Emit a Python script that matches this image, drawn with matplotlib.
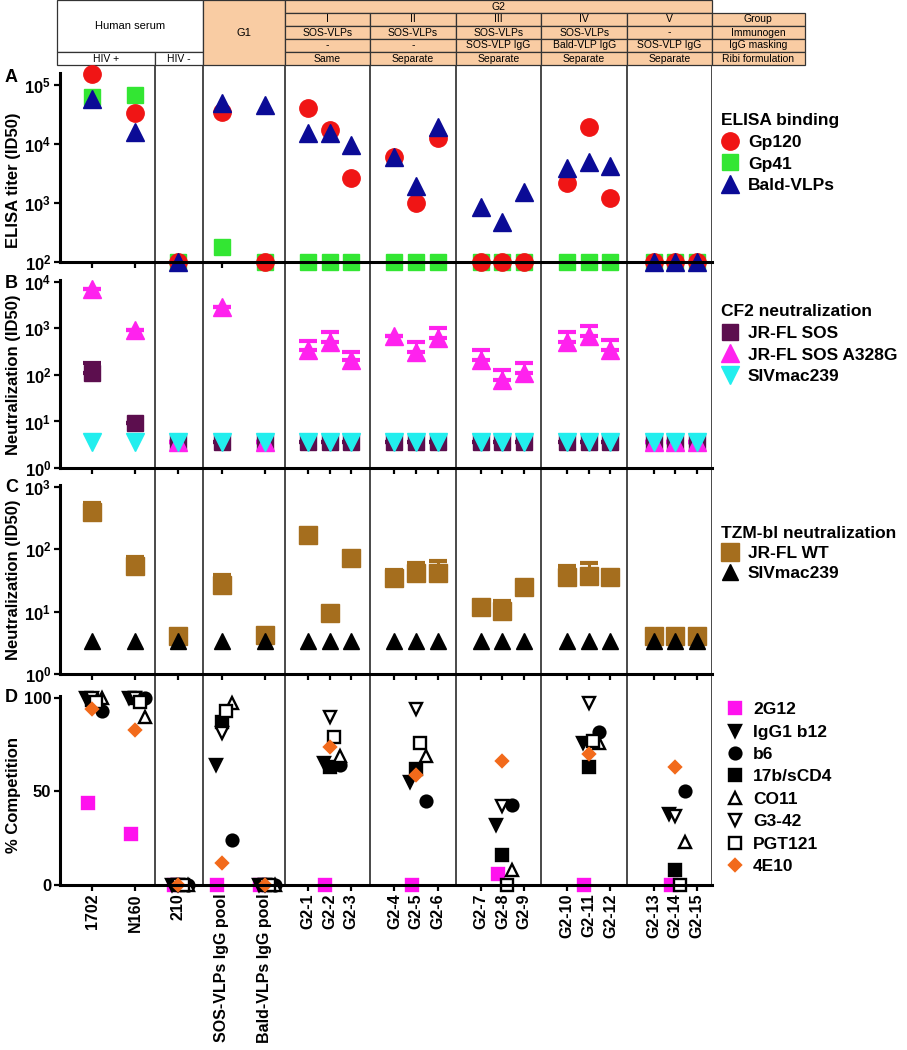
import numpy as np
import matplotlib
matplotlib.use("Agg")
import matplotlib.pyplot as plt
from matplotlib.patches import Rectangle

plt.rcParams["font.family"] = ["Liberation Sans", "DejaVu Sans"]
plt.rcParams["mathtext.fontset"] = "custom"
plt.rcParams["mathtext.rm"] = "Liberation Sans:bold"
plt.rcParams["mathtext.bf"] = "Liberation Sans:bold"

# ---------------- data ----------------
samples = ["1702", "N160", "210", "SOS-VLPs IgG pool", "Bald-VLPs IgG pool",
           "G2-1", "G2-2", "G2-3", "G2-4", "G2-5", "G2-6", "G2-7", "G2-8", "G2-9",
           "G2-10", "G2-11", "G2-12", "G2-13", "G2-14", "G2-15"]
group_sizes = [1, 1, 1, 1, 1, 3, 3, 3, 3, 3]
separators = [4.4, 6.64, 10.42, 14.37, 18.35, 22.3, 26.27, 30.2]

# header table
g2_names = ["I", "II", "III", "IV", "V"]
immunogen = ["SOS-VLPs", "SOS-VLPs", "SOS-VLPs", "SOS-VLPs", "-"]
masking = ["-", "-", "SOS-VLP IgG", "Bald-VLP IgG", "SOS-VLP IgG"]
ribi = ["Same", "Separate", "Separate", "Separate", "Separate"]
row_names = ["Group", "Immunogen", "IgG masking", "Ribi formulation"]

# A: ELISA binding titers
gp120 = [1.5e5, 3.3e4, 100, 3.5e4, 100, 4.1e4, 1.7e4, 2.6e3, 6.1e3, 1.0e3, 1.26e4,
         100, 100, 100, 2.2e3, 1.9e4, 1.2e3, 100, 100, 100]
gp41 = [6.3e4, 6.6e4, 100, 180, 100, 100, 100, 100, 100, 100, 100,
        100, 100, 100, 100, 100, 100, 100, 100, 100]
bald_vlp = [5.7e4, 1.6e4, 100, 4.9e4, 4.6e4, 1.5e4, 1.5e4, 9.6e3, 5.9e3, 1.9e3, 1.9e4,
            870, 470, 1550, 3.9e3, 5.0e3, 4.3e3, 100, 100, 100]

# B: CF2 neutralization
cf2_sos = [110, 9.4, 3.7, 3.7, 3.7, 3.7, 3.7, 3.7, 3.7, 3.7, 3.7,
           3.7, 3.7, 3.7, 3.7, 3.7, 3.7, 3.7, 3.7, 3.7]
cf2_sos_err = [70, 0, 0, 0, 0, 0, 0, 0, 0, 0, 0, 0, 0, 0, 0, 0, 0, 0, 0, 0]
cf2_a328g = [6900, 930, 3.7, 2900, 3.7, 345, 520, 210, 690, 316, 615,
             210, 78, 109, 520, 690, 345, 3.7, 3.7, 3.7]
cf2_a328g_err = [0, 0, 0, 0, 0, 200, 330, 106, 0, 204, 425,
                 135, 49, 69, 330, 440, 220, 0, 0, 0]
cf2_siv = [3.7] * 20

# C: TZM-bl neutralization
tzm_wt = [390, 53, 4.0, 27, 4.2, 170, 9.6, 72, 35, 41, 41,
          12, 10.4, 24.6, 36, 37, 36, 4.0, 4.0, 4.0]
tzm_wt_err = [170, 22, 0, 12, 0, 0, 0, 0, 12, 19, 24,
              0, 4.6, 0, 18, 24, 0, 0, 0, 0]
tzm_siv = [3.4] * 20

# D: % competition per group (1702, N160, 210, SOS pool, Bald pool, G2-I..V)
comp_2g12 = [44, 27, 0, 0, 0, 0, 0, 6, 0, 0]
comp_b12 = [100, 100, 0, 64, 0, 65, 55, 32, 76, 38]
comp_b6 = [93, 100, 0, 24, 0, 64, 45, 43, 82, 50]
comp_17b = [99, 100, 0, 87, 0, 63, 62, 16, 63, 8]
comp_co11 = [100, 90, 0, 97, 0, 69, 69, 8, 76, 23]
comp_g342 = [100, 100, 0, 81, 0, 90, 94, 42, 97, 37]
comp_pgt121 = [98, 98, 0, 93, 0, 79, 76, 0, 77, 0]
comp_4e10 = [94, 83, 0, 12, 0, 74, 59, 66, 70, 63]

# ---------------- layout ----------------
W, H = 907, 1050
x0_px, unit_px, x_max = 59.6, 21.6, 30.2

x_pos, group_centers = [], []
x = 1.5
for n in group_sizes:
    grp = []
    for k in range(n):
        grp.append(x)
        x += 1
    x_pos.append(grp)
    group_centers.append(np.mean(grp))
    x += 1
x_pos = [v for g in x_pos for v in g]


def rect(top, bottom):
    return [x0_px / W, 1 - bottom / H, x_max * unit_px / W, (bottom - top) / H]


fig = plt.figure(figsize=(W / 100, H / 100), dpi=100)

# vertical separators running through header and all panels
ax_lines = fig.add_axes(rect(0, 885))
ax_lines.set_xlim(0, x_max)
ax_lines.axis("off")
for s in separators:
    ax_lines.axvline(s, color="#3a3a3a", lw=1.3)

# header table
orange = "#F9CCA3"
ax_h = fig.add_axes(rect(0, 65))
ax_h.set_xlim(0, x_max)
ax_h.set_ylim(5, 0)
ax_h.axis("off")


def cell(xa, xb, ya, yb, txt, fc, size=7.5):
    ax_h.add_patch(Rectangle((xa, ya), xb - xa, yb - ya, facecolor=fc,
                             edgecolor="#333333", lw=0.9, clip_on=False))
    ax_h.text((xa + xb) / 2, (ya + yb) / 2, txt, ha="center", va="center",
              fontsize=size, clip_on=False)


left_edge, right_edge = -0.12, 34.5
cell(left_edge, separators[1], 0, 4, "Human serum", "white", 8)
cell(left_edge, separators[0], 4, 5, "HIV +", "white")
cell(separators[0], separators[1], 4, 5, "HIV -", "white")
cell(separators[1], separators[2], 0, 5, "G1", orange, 8)
cell(separators[2], separators[7], 0, 1, "G2", orange)
for i in range(5):
    xa, xb = separators[2 + i], separators[3 + i]
    for r, txt in enumerate([g2_names[i], immunogen[i], masking[i], ribi[i]]):
        cell(xa, xb, 1 + r, 2 + r, txt, orange)
for r, txt in enumerate(row_names):
    cell(separators[7], right_edge, 1 + r, 2 + r, txt, orange)


def style(ax):
    ax.set_xlim(0, x_max)
    ax.patch.set_alpha(0)
    for sp in ["top", "right"]:
        ax.spines[sp].set_visible(False)
    for sp in ["left", "bottom"]:
        ax.spines[sp].set_linewidth(2.2)
    ax.tick_params(axis="both", which="major", direction="out", length=4,
                   width=1.6, pad=2, labelsize=12)
    ax.set_xticks(x_pos)
    ax.set_xticklabels([])


def log_labels(ax, exps):
    ax.set_yticks([10.0 ** e for e in exps])
    ax.set_yticklabels([r"$\mathbf{10^{%d}}$" % e for e in exps], fontsize=12)
    ax.minorticks_off()


ms = 12.5
legend_kw = dict(loc="upper left", frameon=False, borderpad=0, borderaxespad=0,
                 handlelength=1.0, handletextpad=0.55, numpoints=1,
                 prop={"weight": "bold", "size": 12.5},
                 title_fontproperties={"weight": "bold", "size": 12.5},
                 alignment="left")

# ---------- Panel A ----------
axA = fig.add_axes(rect(73, 262))
axA.set_yscale("log")
axA.set_ylim(100, 10 ** 5.2)
style(axA)
log_labels(axA, [2, 3, 4, 5])
hA2, = axA.plot(x_pos, gp41, "s", color="#33E633", ms=ms - 1.5, ls="none", clip_on=False, label="Gp41")
hA1, = axA.plot(x_pos, gp120, "o", color="#F01515", ms=ms, ls="none", clip_on=False, label="Gp120")
hA3, = axA.plot(x_pos, bald_vlp, "^", color="#0B0B96", ms=ms, ls="none", clip_on=False, label="Bald-VLPs")
fig.legend(handles=[hA1, hA2, hA3], title="ELISA binding",
           bbox_to_anchor=(721 / W, 1 - 113 / H), labelspacing=0.38, **legend_kw)

# ---------- Panel B ----------
axB = fig.add_axes(rect(280, 468))
axB.set_yscale("log")
axB.set_ylim(1, 10 ** 4.04)
style(axB)
log_labels(axB, [0, 1, 2, 3, 4])
axB.errorbar(x_pos, cf2_sos, yerr=[np.zeros(20), cf2_sos_err], fmt="none",
             ecolor="#5C0E4E", elinewidth=2.2, capsize=6.5, capthick=3)
axB.errorbar(x_pos, cf2_a328g, yerr=[np.zeros(20), cf2_a328g_err], fmt="none",
             ecolor="#FF22EE", elinewidth=2.2, capsize=6.5, capthick=3)
hB1, = axB.plot(x_pos, cf2_sos, "s", color="#5C0E4E", ms=ms - 1.5, ls="none", label="JR-FL SOS")
hB2, = axB.plot(x_pos, cf2_a328g, "^", color="#FF22EE", ms=ms, ls="none", label="JR-FL SOS A328G")
hB3, = axB.plot(x_pos, cf2_siv, "v", color="#22EEEE", ms=ms, ls="none", label="SIVmac239")
fig.legend(handles=[hB1, hB2, hB3], title="CF2 neutralization",
           bbox_to_anchor=(721 / W, 1 - 304 / H), labelspacing=0.38, **legend_kw)

# ---------- Panel C ----------
axC = fig.add_axes(rect(485, 674))
axC.set_yscale("log")
axC.set_ylim(1, 10 ** 3.03)
style(axC)
log_labels(axC, [0, 1, 2, 3])
axC.errorbar(x_pos, tzm_wt, yerr=[np.zeros(20), tzm_wt_err], fmt="none",
             ecolor="#A56E1E", elinewidth=2.2, capsize=6.5, capthick=3)
hC1, = axC.plot(x_pos, tzm_wt, "s", color="#A56E1E", ms=ms, ls="none", label="JR-FL WT")
hC2, = axC.plot(x_pos, tzm_siv, "^", color="black", ms=ms - 0.5, ls="none", label="SIVmac239")
fig.legend(handles=[hC1, hC2], title="TZM-bl neutralization",
           bbox_to_anchor=(721 / W, 1 - 526 / H), labelspacing=0.28, **legend_kw)

# ---------- Panel D ----------
axD = fig.add_axes(rect(696, 885))
axD.set_ylim(0, 101)
style(axD)
axD.set_yticks([0, 50, 100])
axD.set_yticklabels(["0", "50", "100"], fontweight="bold", fontsize=12)
axD.set_xticklabels(samples, rotation=90, fontweight="bold", fontsize=11.5)

mabs = [
    ("2G12", comp_2g12, "s", "#FF11EE", "#FF11EE", -0.2, 8.5),
    ("IgG1 b12", comp_b12, "v", "black", "black", -0.28, 9),
    ("b6", comp_b6, "o", "black", "black", 0.46, 8.5),
    ("17b/sCD4", comp_17b, "s", "black", "black", 0.0, 8.5),
    ("CO11", comp_co11, "^", "white", "black", 0.46, 9),
    ("G3-42", comp_g342, "v", "white", "black", 0.0, 9),
    ("PGT121", comp_pgt121, "s", "white", "black", 0.2, 8.5),
    ("4E10", comp_4e10, "D", "#F26A1B", "#F26A1B", 0.0, 6),
]
hD = []
for name, vals, mk, fc, ec, off, size in mabs:
    h, = axD.plot(np.array(group_centers) + off, vals, mk, mfc=fc, mec=ec, mew=1.7,
                  ms=size, ls="none", clip_on=False, label=name)
    hD.append(h)
d_kw = dict(legend_kw)
d_kw.pop("title_fontproperties")
fig.legend(handles=hD, bbox_to_anchor=(726 / W, 1 - 702 / H), labelspacing=0.42,
           **d_kw)

# panel letters and axis labels
for letter, ypx in [("A", 77), ("B", 283), ("C", 488), ("D", 698)]:
    fig.text(5 / W, 1 - ypx / H, letter, fontsize=13, fontweight="bold", va="center")
for txt, ypx in [("ELISA titer (ID50)", 180), ("Neutralization (ID50)", 375),
                 ("Neutralization (ID50)", 580), ("% Competition", 795)]:
    fig.text(14 / W, 1 - ypx / H, txt, rotation=90, fontsize=12, fontweight="bold",
             ha="center", va="center")

fig.savefig("out.png", dpi=100)
